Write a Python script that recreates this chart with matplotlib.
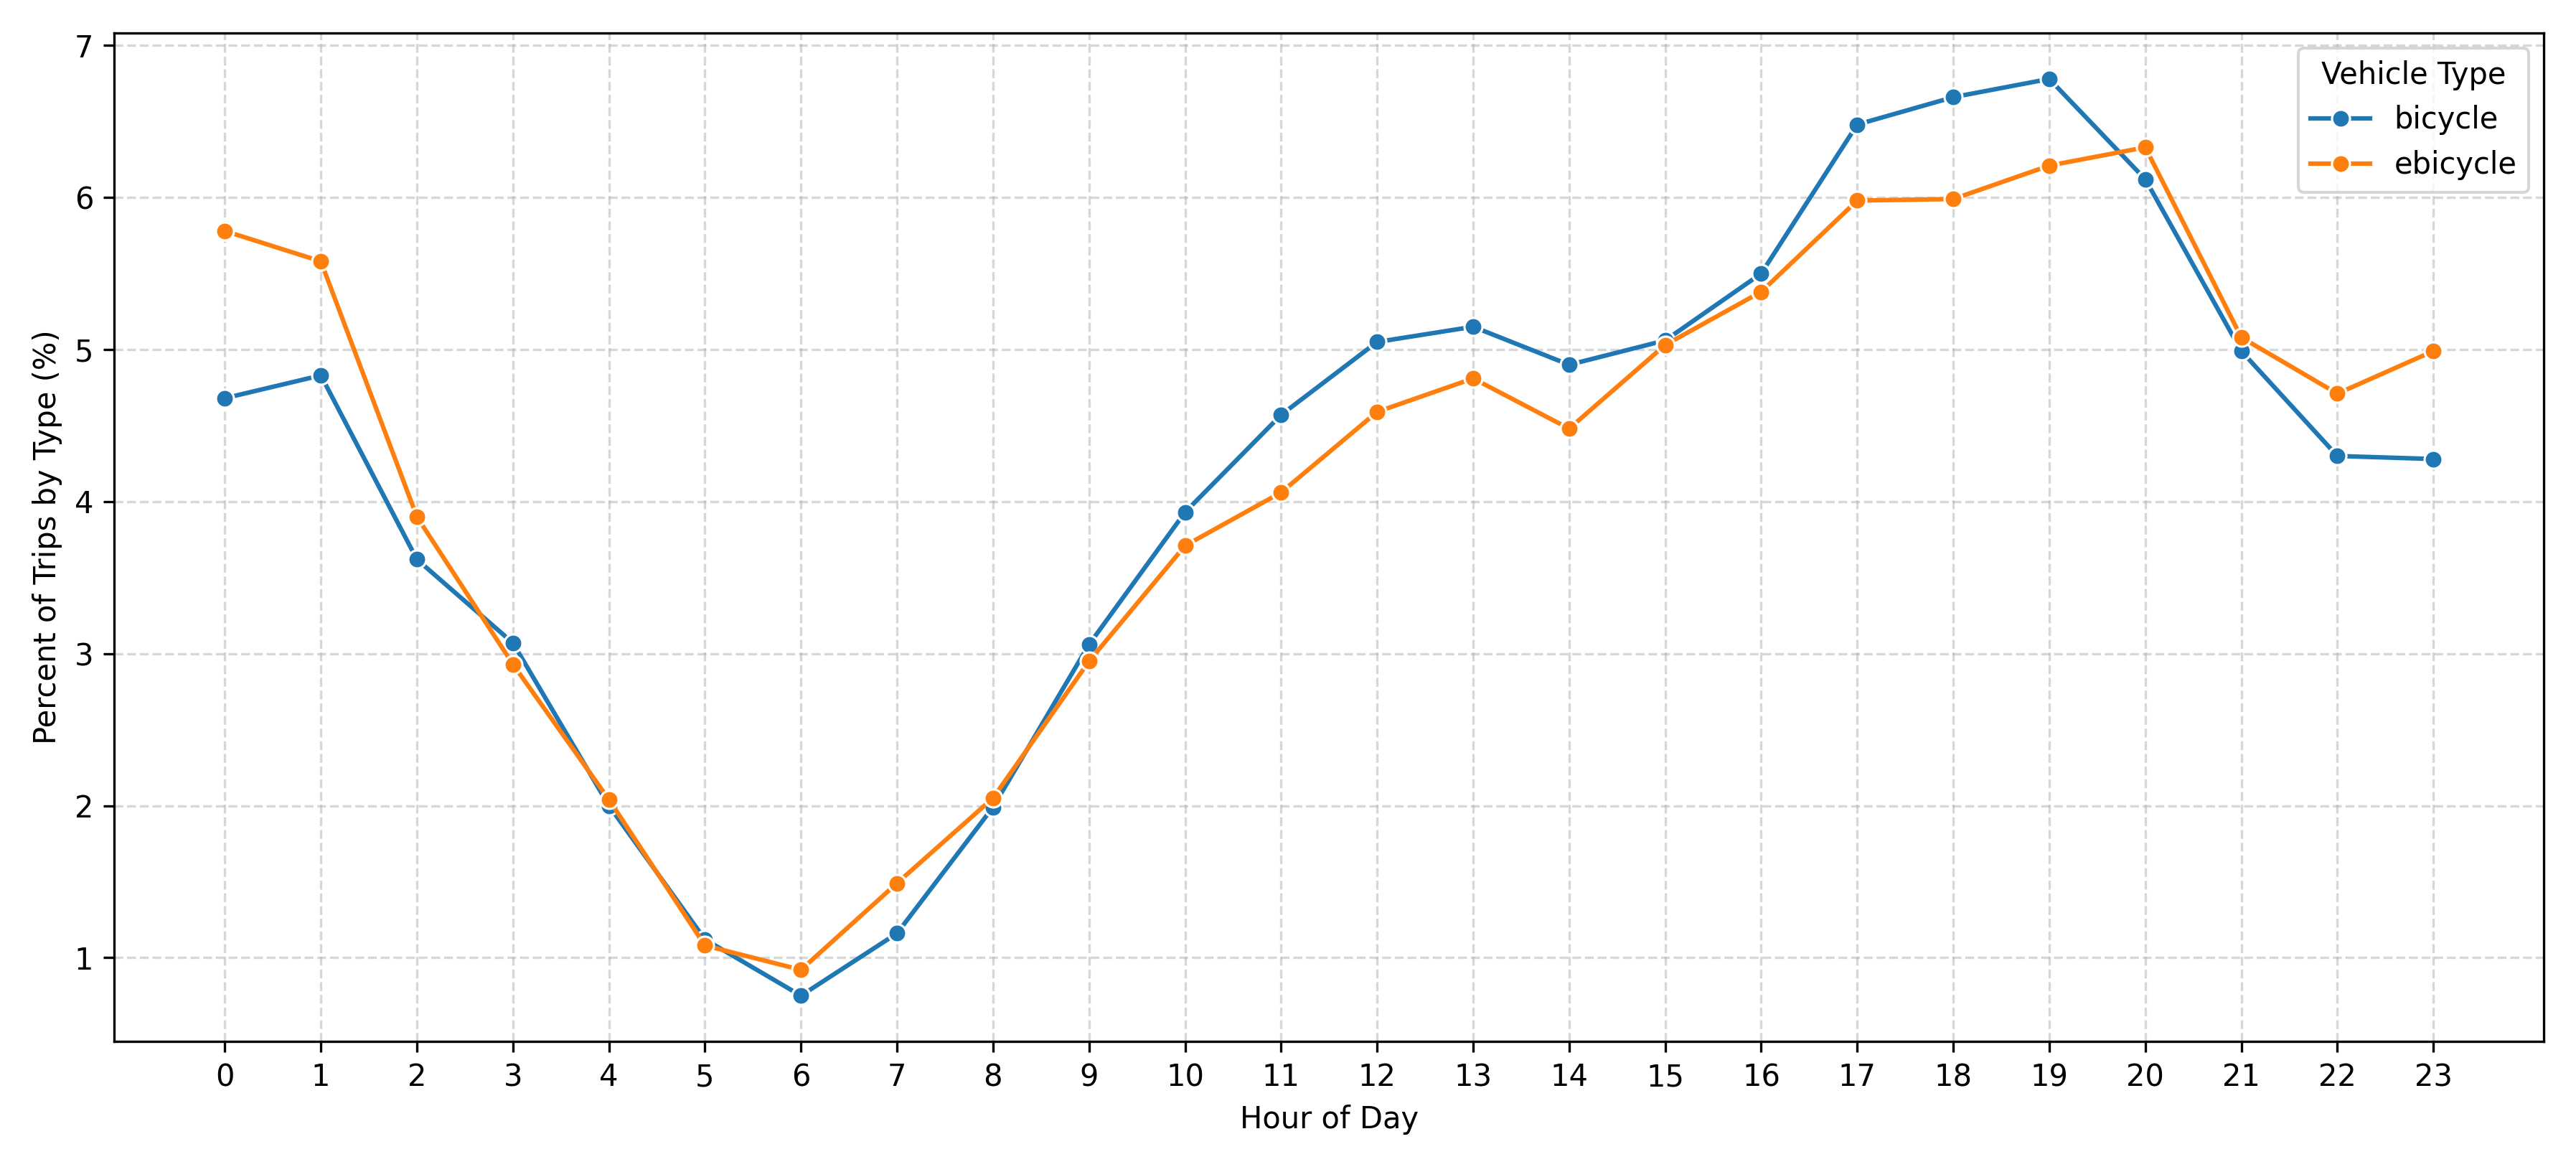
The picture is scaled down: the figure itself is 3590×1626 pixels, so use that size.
import matplotlib
matplotlib.use("Agg")
import matplotlib.pyplot as plt

hours = list(range(24))
bicycle = [4.68, 4.83, 3.62, 3.07, 2.00, 1.12, 0.75, 1.16, 1.99, 3.06, 3.93, 4.57,
           5.05, 5.15, 4.90, 5.06, 5.50, 6.48, 6.66, 6.78, 6.12, 4.99, 4.30, 4.28]
ebicycle = [5.78, 5.58, 3.90, 2.93, 2.04, 1.08, 0.92, 1.49, 2.05, 2.95, 3.71, 4.06,
            4.59, 4.81, 4.48, 5.03, 5.38, 5.98, 5.99, 6.21, 6.33, 5.08, 4.71, 4.99]

fig, ax = plt.subplots(figsize=(11.967, 5.42), dpi=300)
for name, vals, color in [("bicycle", bicycle, "#1f77b4"), ("ebicycle", ebicycle, "#ff7f0e")]:
    ax.plot(hours, vals, marker="o", color=color, linewidth=1.5, markersize=6,
            markeredgecolor="white", markeredgewidth=0.75, label=name)

ax.set_xticks(hours)
ax.set_xlabel("Hour of Day")
ax.set_ylabel("Percent of Trips by Type (%)")
ax.grid(True, linestyle="--", alpha=0.5)
ax.legend(title="Vehicle Type", loc="upper right")
fig.tight_layout()
fig.savefig("out.png", dpi=300)
